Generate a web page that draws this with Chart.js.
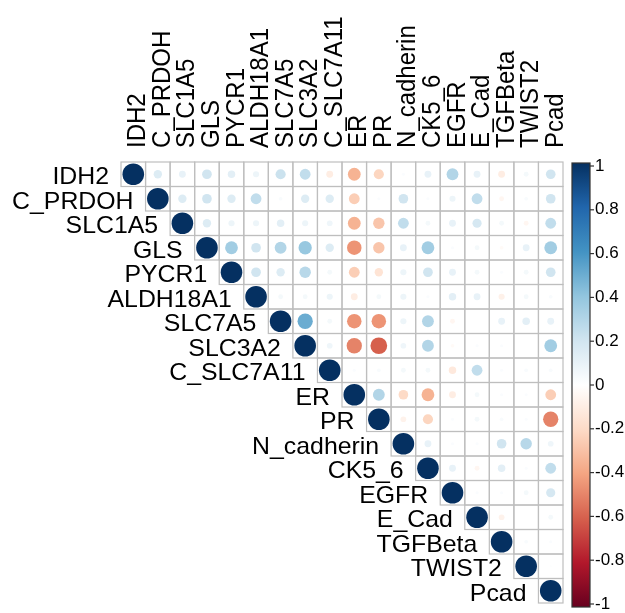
<!DOCTYPE html>
<html>
<head>
<meta charset="utf-8">
<script src="https://cdn.jsdelivr.net/npm/chart.js"></script>
<style>
    body { margin: 0; background: #ffffff; }
    canvas { display: block; }
</style>
</head>
<body>
<canvas id="corrChart" width="625" height="613"></canvas>
<script>
const VARS = ['IDH2', 'C_PRDOH', 'SLC1A5', 'GLS', 'PYCR1', 'ALDH18A1', 'SLC7A5', 'SLC3A2',
    'C_SLC7A11', 'ER', 'PR', 'N_cadherin', 'CK5_6', 'EGFR', 'E_Cad', 'TGFBeta', 'TWIST2', 'Pcad'];

// upper triangle, each row starts at the diagonal
const CORR_ROWS = [
    [1, 0.15, 0.1, 0.2, 0.12, 0.08, 0.22, 0.25, -0.1, -0.35, -0.22, 0.02, 0.1, 0.3, 0.1, -0.1, 0.05, 0.2],
    [1, 0.15, 0.2, 0.15, 0.25, 0.03, 0.15, 0.15, -0.25, 0.02, 0.2, 0.02, 0.08, 0.25, -0.05, 0.03, 0.2],
    [1, 0.15, 0.08, 0.08, 0.12, 0.08, 0.07, -0.35, -0.28, 0.25, 0.05, 0.1, 0.18, 0.05, -0.05, 0.25],
    [1, 0.35, 0.2, 0.3, 0.38, 0.15, -0.45, -0.28, 0.1, 0.35, 0.02, 0.05, -0.03, 0.1, 0.35],
    [1, 0.2, 0.15, 0.28, 0.05, -0.25, -0.15, 0.08, 0.2, 0.1, 0.05, 0.02, 0.05, 0.2],
    [1, 0.05, 0.05, 0.08, -0.1, 0.05, 0.08, 0.02, 0.12, 0.1, -0.08, 0.05, 0.03],
    [1, 0.5, 0.05, -0.45, -0.45, 0.08, 0.3, -0.05, 0, 0.1, 0.12, 0.1],
    [1, 0.07, -0.5, -0.6, 0.07, 0.3, -0.03, 0.02, 0.02, 0, 0.35],
    [1, 0.02, 0.03, 0.05, 0.05, -0.12, 0.25, 0.02, 0.03, 0.03],
    [1, 0.3, -0.2, -0.35, -0.1, 0.05, 0.02, 0.02, -0.25],
    [1, -0.07, -0.22, 0.02, 0.05, 0.03, 0.02, -0.5],
    [1, 0.1, 0.02, 0.02, 0.2, 0.28, 0.07],
    [1, 0.1, -0.05, 0.12, 0.02, 0.25],
    [1, 0.02, 0.02, 0.05, 0.18],
    [1, -0.07, 0, 0.05],
    [1, 0.03, 0.02],
    [1, 0.01],
    [1],
];

const LEGEND_TICKS = [1, 0.8, 0.6, 0.4, 0.2, 0, -0.2, -0.4, -0.6, -0.8, -1];

const PALETTE = ['#67001F', '#B2182B', '#D6604D', '#F4A582', '#FDDBC7', '#FFFFFF',
    '#D1E5F0', '#92C5DE', '#4393C3', '#2166AC', '#053061'];

const FONT = '"Liberation Sans", Arial, sans-serif';
const STRETCH = 1.035;   // the picture is a bit wider than tall

function hexToRgb(h) {
    return [parseInt(h.substr(1, 2), 16), parseInt(h.substr(3, 2), 16), parseInt(h.substr(5, 2), 16)];
}

function corrColor(v) {
    let t = (v + 1) / 2 * (PALETTE.length - 1);
    let i = Math.min(Math.floor(t), PALETTE.length - 2);
    let f = t - i;
    let a = hexToRgb(PALETTE[i]), b = hexToRgb(PALETTE[i + 1]);
    let c = a.map((x, k) => Math.round(x + (b[k] - x) * f));
    return 'rgb(' + c.join(',') + ')';
}

let points = [];
CORR_ROWS.forEach(function (row, i) {
    row.forEach(function (v, k) {
        points.push({ x: VARS[i + k], y: VARS[i], v: v });
    });
});

function cellSize(chart) {
    if (!chart.chartArea) return 0;
    return chart.chartArea.width / VARS.length;
}

// grey cell borders for the upper triangle
const gridPlugin = {
    id: 'cellGrid',
    beforeDatasetsDraw(chart) {
        let ctx = chart.ctx;
        let xs = chart.scales.x, ys = chart.scales.y;
        let w = cellSize(chart), h = chart.chartArea.height / VARS.length;
        ctx.save();
        ctx.strokeStyle = '#BEBEBE';
        ctx.lineWidth = 1.2;
        for (let i = 0; i < VARS.length; i++) {
            for (let j = i; j < VARS.length; j++) {
                let cx = xs.getPixelForValue(j), cy = ys.getPixelForValue(i);
                ctx.strokeRect(cx - w / 2, cy - h / 2, w, h);
            }
        }
        ctx.restore();
    }
};

// row labels beside the diagonal, column labels on top, colour legend at right
const labelPlugin = {
    id: 'corrLabels',
    afterDraw(chart) {
        let ctx = chart.ctx;
        let xs = chart.scales.x, ys = chart.scales.y;
        let area = chart.chartArea;
        let w = cellSize(chart);
        ctx.save();
        ctx.fillStyle = '#000000';
        ctx.font = '24px ' + FONT;
        ctx.textBaseline = 'alphabetic';
        VARS.forEach(function (name, i) {
            ctx.save();
            ctx.translate(xs.getPixelForValue(i) - w / 2 - 12, ys.getPixelForValue(i) + 10);
            ctx.scale(STRETCH, 1);
            ctx.textAlign = 'right';
            ctx.fillText(name, 0, 0);
            ctx.restore();
        });
        VARS.forEach(function (name, j) {
            ctx.save();
            ctx.translate(xs.getPixelForValue(j) + 12, area.top - 14);
            ctx.scale(STRETCH, 1);
            ctx.rotate(-Math.PI / 2);
            ctx.textAlign = 'left';
            ctx.fillText(name, 0, 0);
            ctx.restore();
        });

        let barLeft = area.right + 9, barW = 18;
        let barTop = area.top + 1, barBottom = area.bottom + 4;
        let grad = ctx.createLinearGradient(0, barTop, 0, barBottom);
        PALETTE.slice().reverse().forEach(function (c, k) {
            grad.addColorStop(k / (PALETTE.length - 1), c);
        });
        ctx.fillStyle = grad;
        ctx.fillRect(barLeft, barTop, barW, barBottom - barTop);
        ctx.strokeStyle = '#333333';
        ctx.lineWidth = 1.2;
        ctx.strokeRect(barLeft, barTop, barW, barBottom - barTop);

        ctx.fillStyle = '#000000';
        ctx.font = '17px ' + FONT;
        ctx.textAlign = 'left';
        ctx.textBaseline = 'middle';
        let span = barBottom - barTop - 6;
        LEGEND_TICKS.forEach(function (v) {
            let y = barTop + 3 + (1 - v) / 2 * span;
            ctx.beginPath();
            ctx.moveTo(barLeft + barW, y);
            ctx.lineTo(barLeft + barW + 4, y);
            ctx.stroke();
            ctx.fillText(String(v), barLeft + barW + 5, y);
        });
        ctx.restore();
    }
};

new Chart(document.getElementById('corrChart').getContext('2d'), {
    type: 'scatter',
    data: {
        datasets: [{
            data: points,
            pointStyle: 'circle',
            pointRadius: function (c) {
                return cellSize(c.chart) * 0.44 * Math.sqrt(Math.abs(c.raw ? c.raw.v : 0));
            },
            pointBackgroundColor: function (c) { return corrColor(c.raw ? c.raw.v : 0); },
            pointBorderWidth: 0,
        }]
    },
    options: {
        responsive: false,
        animation: false,
        layout: { padding: { left: 121, top: 162, right: 62, bottom: 10 } },
        plugins: { legend: { display: false }, tooltip: { enabled: false } },
        scales: {
            x: { type: 'category', labels: VARS, offset: true, display: false },
            y: { type: 'category', labels: VARS, offset: true, display: false },
        }
    },
    plugins: [gridPlugin, labelPlugin]
});
</script>
</body>
</html>
